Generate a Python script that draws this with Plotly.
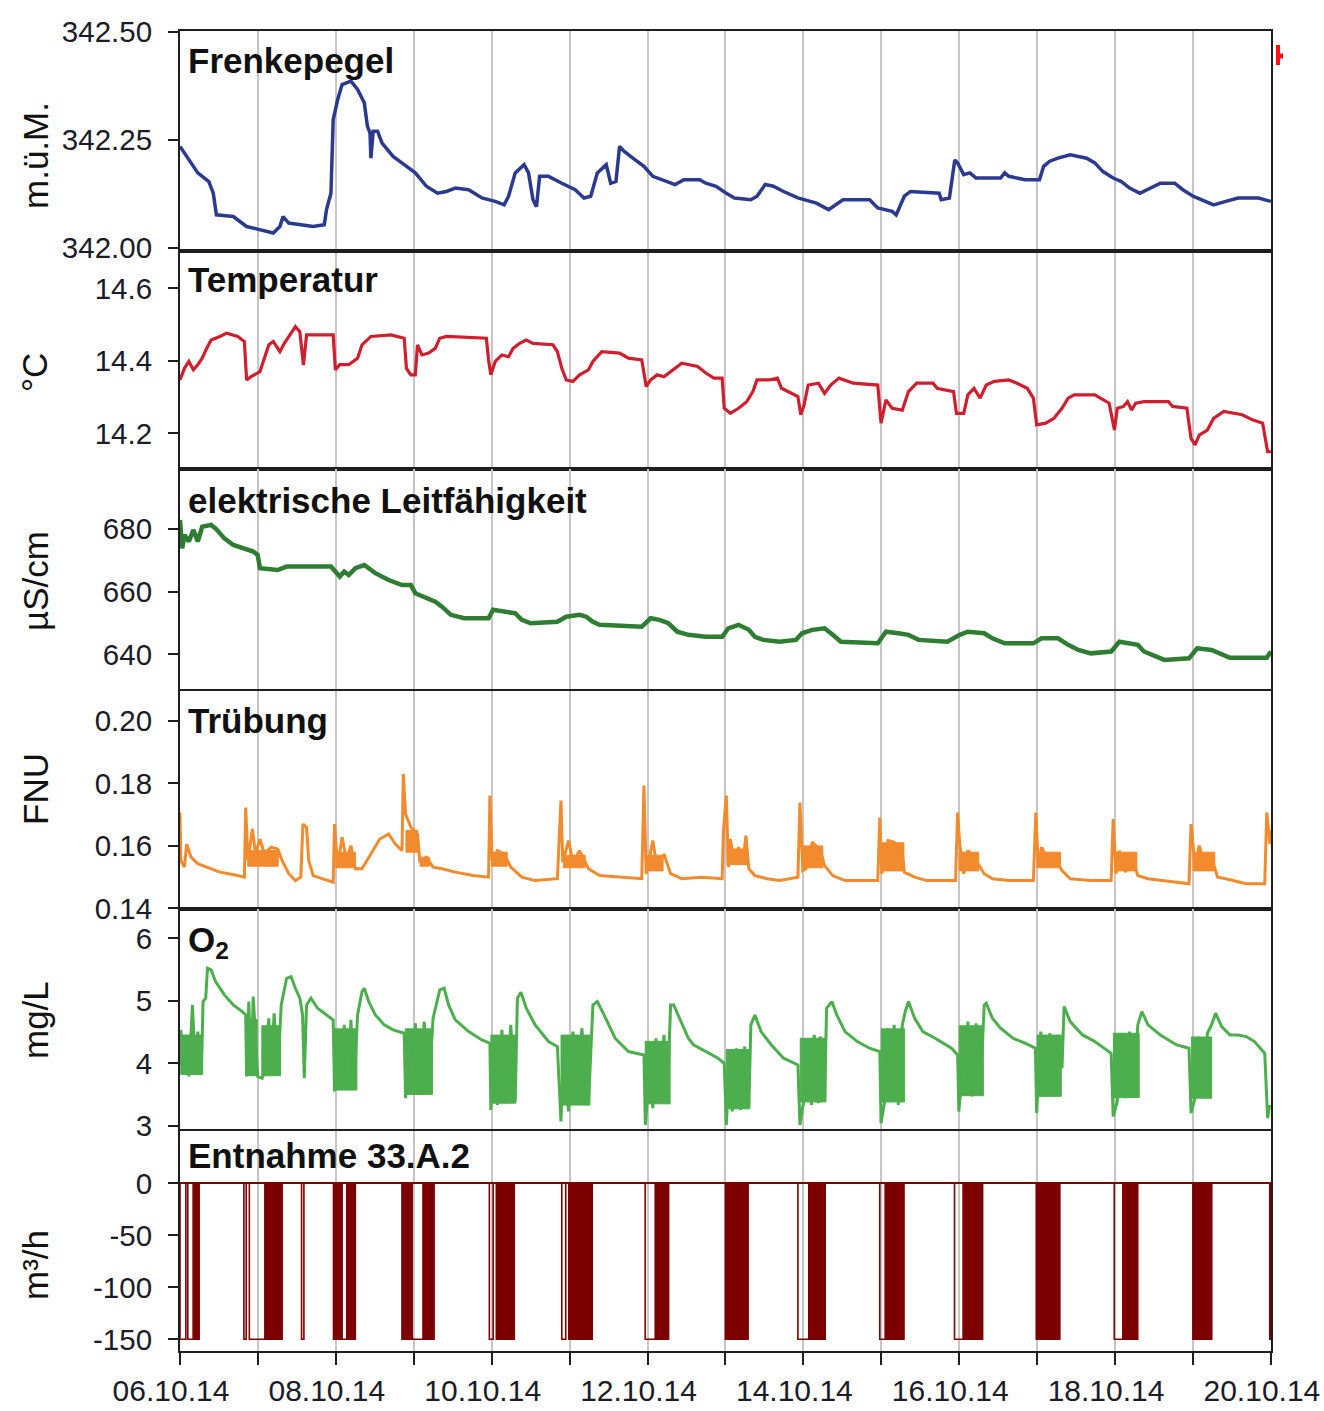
import pandas as pd
import plotly.graph_objects as go

START = "2014-10-06"
END = "2014-10-20"
T0 = pd.Timestamp(START)

# ---------------- data (days since 06.10.14 00:00) ----------------
PEGEL_DAY = [0.000, 0.114, 0.228, 0.370, 0.427, 0.467, 0.684, 0.855, 1.026, 1.197,
             1.282, 1.322, 1.396, 1.709, 1.852, 1.880, 1.937, 1.966, 2.023, 2.080,
             2.194, 2.279, 2.365, 2.405, 2.439, 2.450, 2.479, 2.536, 2.593, 2.735,
             2.877, 3.020, 3.162, 3.305, 3.419, 3.533, 3.704, 3.875, 4.046, 4.160,
             4.217, 4.302, 4.416, 4.473, 4.530, 4.575, 4.615, 4.729, 4.900, 5.071,
             5.185, 5.271, 5.356, 5.470, 5.527, 5.595, 5.641, 5.698, 5.812, 5.954,
             6.068, 6.268, 6.353, 6.467, 6.538, 6.669, 6.748, 6.879, 7.011, 7.116,
             7.326, 7.405, 7.510, 7.615, 7.746, 7.930, 8.167, 8.324, 8.508, 8.850,
             8.955, 9.139, 9.191, 9.296, 9.375, 9.743, 9.769, 9.874, 9.943, 9.980,
             10.058, 10.137, 10.216, 10.531, 10.584, 10.636, 10.847, 11.030, 11.083, 11.162,
             11.267, 11.425, 11.635, 11.740, 11.845, 11.976, 12.081, 12.187, 12.318, 12.449,
             12.581, 12.765, 12.870, 13.001, 13.106, 13.264, 13.421, 13.579, 13.842, 14.000]
PEGEL_VAL = [342.235, 342.204, 342.174, 342.154, 342.127, 342.077, 342.073, 342.050, 342.042, 342.035,
             342.050, 342.073, 342.058, 342.050, 342.054, 342.089, 342.127, 342.297, 342.343, 342.378,
             342.386, 342.367, 342.336, 342.282, 342.266, 342.208, 342.270, 342.270, 342.243, 342.212,
             342.193, 342.174, 342.143, 342.127, 342.131, 342.139, 342.135, 342.116, 342.108, 342.100,
             342.120, 342.174, 342.193, 342.174, 342.112, 342.096, 342.166, 342.166, 342.150, 342.135,
             342.116, 342.120, 342.174, 342.193, 342.150, 342.154, 342.235, 342.224, 342.208, 342.189,
             342.166, 342.154, 342.147, 342.158, 342.158, 342.158, 342.150, 342.143, 342.127, 342.116,
             342.112, 342.120, 342.147, 342.143, 342.131, 342.116, 342.104, 342.089, 342.112, 342.112,
             342.093, 342.085, 342.077, 342.120, 342.131, 342.127, 342.112, 342.116, 342.204, 342.197,
             342.170, 342.174, 342.162, 342.162, 342.174, 342.166, 342.158, 342.158, 342.189, 342.201,
             342.208, 342.216, 342.208, 342.197, 342.177, 342.162, 342.154, 342.139, 342.127, 342.139,
             342.150, 342.150, 342.135, 342.120, 342.112, 342.100, 342.108, 342.116, 342.116, 342.108]

TEMP_DAY = [0.000, 0.057, 0.114, 0.171, 0.228, 0.285, 0.342, 0.399, 0.513, 0.598,
            0.741, 0.826, 0.855, 0.912, 1.026, 1.083, 1.140, 1.197, 1.282, 1.339,
            1.396, 1.481, 1.538, 1.584, 1.624, 1.966, 1.994, 2.051, 2.165, 2.279,
            2.336, 2.450, 2.707, 2.877, 2.906, 2.963, 3.020, 3.048, 3.105, 3.191,
            3.276, 3.333, 3.419, 3.932, 3.960, 3.989, 4.046, 4.131, 4.217, 4.274,
            4.359, 4.444, 4.530, 4.786, 4.843, 4.900, 4.957, 5.043, 5.128, 5.242,
            5.299, 5.413, 5.641, 5.755, 5.926, 5.983, 6.040, 6.125, 6.211, 6.325,
            6.439, 6.643, 6.748, 6.853, 6.958, 6.984, 7.063, 7.168, 7.273, 7.352,
            7.405, 7.562, 7.667, 7.720, 7.851, 7.930, 7.967, 8.009, 8.061, 8.193,
            8.272, 8.351, 8.456, 8.640, 8.955, 8.997, 9.060, 9.139, 9.270, 9.349,
            9.454, 9.664, 9.717, 9.927, 9.964, 10.058, 10.111, 10.190, 10.268, 10.347,
            10.452, 10.636, 10.741, 10.873, 10.952, 10.994, 11.109, 11.214, 11.319, 11.398,
            11.477, 11.740, 11.924, 11.992, 12.029, 12.108, 12.160, 12.213, 12.265, 12.371,
            12.686, 12.739, 12.922, 12.975, 13.027, 13.080, 13.185, 13.264, 13.395, 13.632,
            13.763, 13.894, 13.958, 14.000]
TEMP_VAL = [14.347, 14.379, 14.398, 14.375, 14.389, 14.407, 14.434, 14.457, 14.467, 14.476,
            14.467, 14.453, 14.347, 14.356, 14.370, 14.407, 14.444, 14.453, 14.425, 14.448,
            14.467, 14.494, 14.480, 14.388, 14.471, 14.471, 14.375, 14.389, 14.389, 14.407,
            14.444, 14.467, 14.471, 14.462, 14.379, 14.361, 14.361, 14.444, 14.416, 14.421,
            14.434, 14.462, 14.467, 14.462, 14.402, 14.361, 14.398, 14.416, 14.411, 14.434,
            14.448, 14.457, 14.448, 14.444, 14.425, 14.379, 14.347, 14.343, 14.361, 14.375,
            14.398, 14.425, 14.421, 14.407, 14.402, 14.329, 14.347, 14.361, 14.356, 14.375,
            14.393, 14.384, 14.366, 14.352, 14.352, 14.269, 14.255, 14.269, 14.287, 14.315,
            14.347, 14.347, 14.352, 14.324, 14.310, 14.301, 14.251, 14.278, 14.333, 14.338,
            14.310, 14.333, 14.352, 14.338, 14.333, 14.228, 14.292, 14.269, 14.264, 14.315,
            14.338, 14.338, 14.324, 14.315, 14.255, 14.255, 14.306, 14.324, 14.297, 14.333,
            14.343, 14.347, 14.338, 14.324, 14.297, 14.223, 14.228, 14.241, 14.269, 14.297,
            14.306, 14.306, 14.283, 14.209, 14.269, 14.274, 14.287, 14.264, 14.283, 14.287,
            14.287, 14.274, 14.269, 14.186, 14.168, 14.195, 14.209, 14.241, 14.260, 14.251,
            14.237, 14.228, 14.149, 14.149]

LF_DAY = [0.000, 0.028, 0.057, 0.114, 0.171, 0.228, 0.285, 0.399, 0.456, 0.570,
          0.684, 0.826, 0.940, 0.997, 1.026, 1.254, 1.368, 1.937, 1.994, 2.051,
          2.108, 2.165, 2.251, 2.365, 2.507, 2.678, 2.849, 2.963, 3.020, 3.134,
          3.276, 3.362, 3.476, 3.647, 3.960, 4.017, 4.160, 4.302, 4.387, 4.501,
          4.843, 4.957, 5.128, 5.214, 5.299, 5.385, 5.926, 6.040, 6.154, 6.268,
          6.382, 6.524, 6.748, 6.958, 7.037, 7.168, 7.300, 7.378, 7.483, 7.694,
          7.904, 7.983, 8.114, 8.272, 8.377, 8.482, 8.955, 9.060, 9.218, 9.349,
          9.480, 9.848, 10.006, 10.111, 10.321, 10.426, 10.584, 10.952, 11.057, 11.267,
          11.398, 11.530, 11.687, 11.950, 12.055, 12.292, 12.371, 12.528, 12.633, 12.949,
          13.054, 13.238, 13.369, 13.474, 13.947, 14.000]
LF_VAL = [682.9, 673.8, 678.1, 676.0, 679.7, 676.0, 680.7, 681.3, 680.2, 677.0,
          674.9, 673.8, 672.8, 671.7, 667.5, 666.9, 668.0, 668.0, 666.4, 664.8,
          666.4, 665.3, 667.5, 668.5, 665.9, 663.7, 662.1, 662.1, 659.5, 658.4,
          656.8, 655.2, 652.6, 651.5, 651.5, 654.2, 653.6, 653.1, 651.0, 649.9,
          650.4, 652.0, 652.6, 652.0, 650.4, 649.4, 648.8, 651.5, 651.0, 649.9,
          647.2, 646.2, 645.6, 645.6, 648.3, 649.4, 647.8, 645.6, 644.6, 644.0,
          644.6, 646.7, 647.8, 648.3, 646.2, 644.0, 643.5, 647.2, 646.7, 646.2,
          644.6, 644.0, 646.2, 647.2, 646.7, 645.1, 643.5, 643.5, 645.1, 645.1,
          643.0, 641.4, 640.3, 640.9, 644.0, 643.0, 640.9, 639.3, 638.2, 638.7,
          641.9, 641.4, 639.8, 638.9, 638.9, 640.9]

TRUEB_DAY = [0.000, 0.011, 0.057, 0.085, 0.142, 0.228, 0.342, 0.513, 0.741, 0.826,
             0.843, 0.872, 0.929, 0.969, 1.026, 1.083, 1.168, 1.254, 1.311, 1.396,
             1.481, 1.550, 1.578, 1.624, 1.652, 1.709, 1.823, 1.966, 1.983, 2.023,
             2.080, 2.137, 2.194, 2.251, 2.336, 2.450, 2.564, 2.678, 2.764, 2.849,
             2.866, 2.895, 2.963, 3.048, 3.077, 3.162, 3.248, 3.362, 3.533, 3.761,
             3.960, 3.977, 4.006, 4.074, 4.160, 4.245, 4.387, 4.558, 4.843, 4.889,
             4.912, 4.986, 5.043, 5.128, 5.242, 5.385, 5.926, 5.954, 5.983, 6.068,
             6.125, 6.211, 6.296, 6.439, 6.695, 6.958, 6.974, 7.011, 7.037, 7.063,
             7.116, 7.168, 7.221, 7.263, 7.300, 7.378, 7.536, 7.694, 7.930, 7.956,
             7.993, 8.035, 8.114, 8.219, 8.272, 8.377, 8.534, 8.955, 8.981, 9.007,
             9.086, 9.165, 9.270, 9.296, 9.428, 9.585, 9.953, 9.980, 10.006, 10.058,
             10.111, 10.190, 10.268, 10.321, 10.426, 10.636, 10.952, 10.983, 11.015, 11.057,
             11.136, 11.214, 11.319, 11.425, 11.687, 11.950, 11.976, 12.013, 12.055, 12.134,
             12.213, 12.292, 12.423, 12.738, 12.949, 12.975, 13.027, 13.080, 13.159, 13.238,
             13.316, 13.421, 13.684, 13.921, 13.947, 13.989, 14.000]
TRUEB_VAL = [0.1707, 0.1553, 0.1532, 0.1606, 0.1564, 0.1543, 0.1532, 0.1516, 0.1505, 0.1500,
             0.1723, 0.1553, 0.1654, 0.1574, 0.1622, 0.1574, 0.1596, 0.1590, 0.1553, 0.1511,
             0.1489, 0.1500, 0.1670, 0.1660, 0.1553, 0.1505, 0.1495, 0.1484, 0.1670, 0.1532,
             0.1628, 0.1553, 0.1601, 0.1527, 0.1527, 0.1574, 0.1622, 0.1638, 0.1606, 0.1585,
             0.1830, 0.1702, 0.1660, 0.1638, 0.1553, 0.1564, 0.1532, 0.1527, 0.1516, 0.1505,
             0.1500, 0.1761, 0.1553, 0.1585, 0.1574, 0.1532, 0.1500, 0.1489, 0.1495, 0.1745,
             0.1548, 0.1617, 0.1548, 0.1585, 0.1527, 0.1505, 0.1495, 0.1793, 0.1511, 0.1617,
             0.1527, 0.1574, 0.1511, 0.1495, 0.1500, 0.1495, 0.1649, 0.1761, 0.1532, 0.1622,
             0.1543, 0.1596, 0.1543, 0.1633, 0.1527, 0.1505, 0.1495, 0.1489, 0.1500, 0.1739,
             0.1521, 0.1527, 0.1612, 0.1585, 0.1537, 0.1505, 0.1489, 0.1489, 0.1691, 0.1511,
             0.1617, 0.1612, 0.1580, 0.1516, 0.1500, 0.1489, 0.1489, 0.1707, 0.1606, 0.1511,
             0.1585, 0.1564, 0.1532, 0.1511, 0.1495, 0.1489, 0.1489, 0.1707, 0.1532, 0.1596,
             0.1553, 0.1564, 0.1521, 0.1495, 0.1489, 0.1489, 0.1686, 0.1511, 0.1585, 0.1516,
             0.1569, 0.1505, 0.1495, 0.1484, 0.1479, 0.1670, 0.1532, 0.1601, 0.1532, 0.1564,
             0.1500, 0.1495, 0.1479, 0.1479, 0.1707, 0.1606, 0.1650]

# Trübung: periods of rapid fluctuation (start, end, lower and upper envelope)
TRUEB_BAND_START = [0.87, 2.00, 2.90, 3.08, 4.00, 4.92, 5.98, 7.02, 8.00, 9.00, 10.00, 11.00, 12.00, 13.00]
TRUEB_BAND_END = [1.26, 2.25, 3.05, 3.20, 4.20, 5.20, 6.20, 7.28, 8.25, 9.29, 10.25, 11.30, 12.28, 13.28]
TRUEB_BAND_LOW = [0.1535, 0.1530, 0.1580, 0.1535, 0.1535, 0.1530, 0.1520, 0.1540, 0.1530, 0.1520,
                  0.1520, 0.1530, 0.1520, 0.1520]
TRUEB_BAND_HIGH = [0.1585, 0.1580, 0.1650, 0.1564, 0.1580, 0.1570, 0.1570, 0.1590, 0.1600, 0.1610,
                   0.1580, 0.1580, 0.1580, 0.1580]

O2_DAY = [0.000, 0.011, 0.046, 0.085, 0.114, 0.160, 0.199, 0.228, 0.274, 0.296,
          0.330, 0.353, 0.399, 0.456, 0.570, 0.684, 0.798, 0.843, 0.855, 0.883,
          0.912, 0.940, 0.997, 1.054, 1.083, 1.140, 1.168, 1.208, 1.254, 1.299,
          1.368, 1.425, 1.481, 1.538, 1.573, 1.595, 1.624, 1.681, 1.766, 1.880,
          1.966, 1.983, 2.023, 2.063, 2.108, 2.154, 2.194, 2.234, 2.279, 2.336,
          2.365, 2.422, 2.507, 2.621, 2.735, 2.877, 2.895, 2.934, 2.991, 3.020,
          3.077, 3.134, 3.191, 3.248, 3.333, 3.390, 3.447, 3.533, 3.704, 3.875,
          3.977, 3.989, 4.034, 4.074, 4.131, 4.188, 4.245, 4.302, 4.330, 4.376,
          4.444, 4.558, 4.729, 4.843, 4.889, 4.929, 4.986, 5.043, 5.100, 5.157,
          5.242, 5.299, 5.356, 5.442, 5.584, 5.755, 5.954, 5.972, 6.028, 6.068,
          6.108, 6.154, 6.211, 6.256, 6.296, 6.336, 6.410, 6.524, 6.590, 6.748,
          6.905, 6.984, 7.011, 7.053, 7.089, 7.142, 7.194, 7.247, 7.300, 7.326,
          7.378, 7.457, 7.589, 7.746, 7.930, 7.956, 8.009, 8.061, 8.104, 8.140,
          8.193, 8.219, 8.272, 8.298, 8.366, 8.429, 8.534, 8.692, 8.850, 8.981,
          8.997, 9.049, 9.086, 9.123, 9.165, 9.218, 9.270, 9.307, 9.349, 9.428,
          9.533, 9.690, 9.901, 9.980, 9.995, 10.048, 10.085, 10.111, 10.163, 10.216,
          10.268, 10.321, 10.347, 10.426, 10.531, 10.689, 10.847, 10.978, 10.994, 11.046,
          11.109, 11.162, 11.225, 11.267, 11.319, 11.346, 11.425, 11.582, 11.740, 11.950,
          11.976, 12.029, 12.081, 12.134, 12.187, 12.239, 12.292, 12.344, 12.423, 12.581,
          12.791, 12.949, 12.975, 13.027, 13.080, 13.133, 13.185, 13.238, 13.290, 13.369,
          13.474, 13.579, 13.684, 13.789, 13.921, 13.958, 13.984]
O2_VAL = [3.973, 4.533, 3.813, 4.453, 3.787, 4.933, 3.813, 4.507, 3.840, 4.987,
          5.040, 5.520, 5.493, 5.307, 5.093, 4.933, 4.827, 4.773, 3.787, 4.987,
          3.867, 5.067, 3.787, 3.760, 3.867, 4.720, 3.813, 4.800, 3.813, 4.933,
          5.360, 5.387, 5.200, 5.040, 4.773, 3.760, 4.933, 5.040, 4.880, 4.773,
          4.693, 3.547, 4.507, 3.573, 4.613, 3.573, 4.693, 3.573, 4.773, 5.147,
          5.200, 4.987, 4.773, 4.613, 4.533, 4.480, 3.440, 4.453, 3.520, 4.640,
          3.493, 4.667, 3.520, 4.720, 5.173, 5.200, 4.933, 4.693, 4.507, 4.373,
          4.320, 3.253, 4.400, 3.333, 4.533, 3.360, 4.613, 3.387, 5.040, 5.136,
          4.880, 4.613, 4.347, 4.267, 3.067, 4.453, 3.227, 4.507, 3.333, 4.560,
          3.333, 4.933, 4.987, 4.773, 4.400, 4.187, 4.133, 3.013, 3.893, 3.280,
          4.400, 3.387, 4.453, 3.493, 4.933, 4.933, 4.720, 4.400, 4.293, 4.187,
          4.080, 4.000, 3.013, 4.027, 3.227, 4.240, 3.253, 4.267, 3.280, 4.613,
          4.773, 4.507, 4.293, 4.080, 3.973, 3.013, 3.440, 3.973, 3.333, 4.453,
          3.360, 4.427, 3.387, 4.880, 4.987, 4.773, 4.507, 4.347, 4.240, 4.187,
          3.040, 3.440, 4.560, 3.387, 4.613, 3.333, 4.613, 4.827, 4.987, 4.720,
          4.507, 4.400, 4.240, 4.133, 3.227, 3.973, 3.493, 4.667, 3.467, 4.640,
          3.493, 4.933, 4.960, 4.720, 4.560, 4.400, 4.320, 4.240, 3.200, 4.507,
          3.467, 4.480, 3.467, 4.453, 3.920, 4.907, 4.667, 4.453, 4.347, 4.160,
          3.147, 3.387, 4.480, 3.440, 4.507, 3.493, 4.613, 4.827, 4.613, 4.453,
          4.293, 4.240, 3.200, 3.440, 4.427, 3.440, 4.480, 4.613, 4.800, 4.587,
          4.453, 4.453, 4.427, 4.347, 4.160, 3.120, 3.333]

# O2: periods of rapid fluctuation while the well pumps (start, end, envelope)
O2_BAND_START = [0.01, 0.86, 1.05, 1.98, 2.89, 3.99, 4.89, 5.97, 7.01, 7.96, 9.00, 10.00, 11.00, 11.98, 12.98]
O2_BAND_END = [0.29, 0.99, 1.29, 2.27, 3.24, 4.31, 5.26, 6.29, 7.31, 8.29, 9.30, 10.31, 11.31, 12.31, 13.24]
O2_BAND_LOW = [3.82, 3.80, 3.80, 3.57, 3.50, 3.36, 3.33, 3.35, 3.27, 3.38, 3.38, 3.48, 3.47, 3.45, 3.44]
O2_BAND_HIGH = [4.45, 4.70, 4.60, 4.55, 4.55, 4.45, 4.45, 4.35, 4.22, 4.40, 4.55, 4.60, 4.45, 4.48, 4.42]

# Entnahme 33.A.2: pumping blocks (start/end day), 'L' = single run, 'D' = dense switching
ENT_START = [0.00, 0.10, 0.17, 0.82, 0.89, 1.09, 1.56, 1.97, 2.08, 2.14, 2.85, 2.98, 3.12,
             3.97, 4.06, 4.90, 4.99, 5.97, 6.10, 7.00, 7.93, 8.07, 8.98, 9.07, 9.11, 9.15,
             9.94, 10.06, 10.99, 11.99, 12.11, 13.00, 13.985]
ENT_END = [0.075, 0.17, 0.245, 0.85, 1.09, 1.31, 1.59, 2.08, 2.14, 2.25, 2.98, 3.12, 3.26,
           4.02, 4.29, 4.95, 5.29, 6.10, 6.27, 7.29, 8.07, 8.28, 9.05, 9.09, 9.13, 9.29,
           10.05, 10.30, 11.29, 12.10, 12.29, 13.24, 14.0]
ENT_KIND = ['L', 'L', 'D', 'L', 'L', 'D', 'L', 'D', 'L', 'D', 'D', 'L', 'D',
            'L', 'D', 'L', 'D', 'L', 'D', 'D', 'L', 'D', 'L', 'L', 'L', 'D',
            'L', 'D', 'D', 'L', 'D', 'D', 'L']
ENT_ON = -150
ENT_OFF = 0

X_TICK_DATES = ["2014-10-06", "2014-10-08", "2014-10-10", "2014-10-12",
                "2014-10-14", "2014-10-16", "2014-10-18", "2014-10-20"]
X_TICK_LABELS = ["06.10.14", "08.10.14", "10.10.14", "12.10.14",
                 "14.10.14", "16.10.14", "18.10.14", "20.10.14"]

PANEL_TITLES = ["<b>Frenkepegel</b>", "<b>Temperatur</b>", "<b>elektrische Leitfähigkeit</b>",
                "<b>Trübung</b>", "<b>O<sub>2</sub></b>", "<b>Entnahme 33.A.2</b>"]
UNITS = ["m.ü.M.", "°C", "µS/cm", "FNU", "mg/L", "m³/h"]
Y_TICKS = [[342.00, 342.25, 342.50], [14.2, 14.4, 14.6], [640, 660, 680],
           [0.14, 0.16, 0.18, 0.20], [3, 4, 5, 6], [-150, -100, -50, 0]]
Y_TICKFMT = ["{:.2f}", "{:.1f}", "{:.0f}", "{:.2f}", "{:.0f}", "{:.0f}"]
Y_RANGES = [[341.998, 342.502], [14.1015, 14.697], [627.96, 699.15],
            [0.1398, 0.2096], [2.947, 6.469], [-161.25, 50.3]]

for a, b in [(PEGEL_DAY, PEGEL_VAL), (TEMP_DAY, TEMP_VAL), (LF_DAY, LF_VAL),
             (TRUEB_DAY, TRUEB_VAL), (O2_DAY, O2_VAL)]:
    assert len(a) == len(b), (len(a), len(b))
assert len(ENT_START) == len(ENT_END) == len(ENT_KIND)
assert len(O2_BAND_START) == len(O2_BAND_END) == len(O2_BAND_LOW) == len(O2_BAND_HIGH)
assert len(TRUEB_BAND_START) == len(TRUEB_BAND_END) == len(TRUEB_BAND_LOW) == len(TRUEB_BAND_HIGH)

# ---------------- styling ----------------
FONT = "Arial, Liberation Sans, sans-serif"
TXT = "#1c1c28"
AX = "#1e1e1e"
GRID = "#c6c6c6"
COLORS = ["#2b3a8f", "#cf1f2e", "#2e7d32", "#f28a2e", "#4cae4c", "#7d0000"]

W, H = 1324, 1411
ML, MR, MT, MB = 180, 53, 31, 60
PH = H - MT - MB
PW = W - ML - MR
PANELS_PX = [(31, 249), (253, 469), (469, 692), (691, 909), (909, 1129), (1131, 1351)]


def py(p):
    return (H - MB - p) / PH


def px(p):
    return (p - ML) / PW


def dates(days):
    return [None if d is None else T0 + pd.Timedelta(days=float(d)) for d in days]


def band_polys(starts, ends, lows, highs):
    bx, by = [], []
    for s, e, lo, hi in zip(starts, ends, lows, highs):
        bx += [s, s, e, e, s, None]
        by += [lo, hi, hi, lo, lo, None]
    return bx, by


fig = go.Figure()

# fluctuation bands (drawn underneath the lines)
for (st, en, lo, hi), n, col in [((TRUEB_BAND_START, TRUEB_BAND_END, TRUEB_BAND_LOW, TRUEB_BAND_HIGH), "4", COLORS[3]),
                                  ((O2_BAND_START, O2_BAND_END, O2_BAND_LOW, O2_BAND_HIGH), "5", COLORS[4])]:
    bx, by = band_polys(st, en, lo, hi)
    fig.add_trace(go.Scatter(x=dates(bx), y=by, mode="lines", fill="toself", fillcolor=col,
                             line=dict(color=col, width=1), xaxis="x" + n, yaxis="y" + n,
                             showlegend=False, hoverinfo="skip"))

series = [(PEGEL_DAY, PEGEL_VAL, 3.5), (TEMP_DAY, TEMP_VAL, 3.2), (LF_DAY, LF_VAL, 4.5),
          (TRUEB_DAY, TRUEB_VAL, 3.0), (O2_DAY, O2_VAL, 3.0)]
for i, (d, v, w) in enumerate(series):
    n = "" if i == 0 else str(i + 1)
    fig.add_trace(go.Scatter(x=dates(d), y=v, mode="lines",
                             line=dict(color=COLORS[i], width=w),
                             xaxis="x" + n, yaxis="y" + n, showlegend=False, hoverinfo="skip"))

# Entnahme step line and dense blocks
ex, ey, fx, fy = [], [], [], []
for s, e, k in zip(ENT_START, ENT_END, ENT_KIND):
    ex += [s, s, e, e]
    ey += [ENT_OFF, ENT_ON, ENT_ON, ENT_OFF]
    if k == 'D':
        fx += [s, s, e, e, None]
        fy += [ENT_OFF, ENT_ON, ENT_ON, ENT_OFF, None]
fig.add_trace(go.Scatter(x=dates(fx), y=fy, mode="lines", fill="toself",
                         fillcolor=COLORS[5], line=dict(color=COLORS[5], width=1),
                         xaxis="x6", yaxis="y6", showlegend=False, hoverinfo="skip"))
fig.add_trace(go.Scatter(x=dates(ex), y=ey, mode="lines",
                         line=dict(color=COLORS[5], width=1.6),
                         xaxis="x6", yaxis="y6", showlegend=False, hoverinfo="skip"))

DAY_MS = 86400000
X_END = (pd.Timestamp(END) + pd.Timedelta(minutes=2)).strftime("%Y-%m-%d %H:%M")
layout = {}
annotations = []
for i in range(6):
    n = "" if i == 0 else str(i + 1)
    top, bot = PANELS_PX[i]
    bottom = (i == 5)
    xa = dict(domain=[0, 1], anchor="y" + n, type="date", range=[START, X_END],
              showline=True, mirror=True, linecolor=AX, linewidth=2,
              showgrid=True, gridcolor=GRID, gridwidth=1.5,
              tickmode="array", tickvals=X_TICK_DATES, ticktext=X_TICK_LABELS,
              showticklabels=bottom, ticks="outside" if bottom else "",
              ticklen=12, tickwidth=2, tickcolor=AX,
              ticklabelshift=-9, ticklabeloverflow="allow",
              minor=dict(tick0=START, dtick=DAY_MS, showgrid=True, gridcolor=GRID, gridwidth=1.5,
                         ticks="outside" if bottom else "", ticklen=12, tickwidth=2,
                         tickcolor=AX),
              tickfont=dict(family=FONT, size=30, color=TXT),
              zeroline=False, automargin=False, fixedrange=True)
    if i > 0:
        xa["matches"] = "x"
    ya = dict(domain=[py(bot), py(top)], anchor="x" + n, range=Y_RANGES[i],
              tickmode="array", tickvals=Y_TICKS[i],
              ticktext=[Y_TICKFMT[i].format(t) for t in Y_TICKS[i]],
              ticks="outside", ticklen=10, tickwidth=2, tickcolor=AX,
              ticklabelstandoff=10, ticklabeloverflow="allow",
              showline=True, mirror=True, linecolor=AX, linewidth=2,
              showgrid=False, zeroline=(i == 5), zerolinecolor=COLORS[5], zerolinewidth=2,
              tickfont=dict(family=FONT, size=29.5, color=TXT), automargin=False, fixedrange=True)
    layout["xaxis" + n] = xa
    layout["yaxis" + n] = ya

TITLE_Y_PX = [60, 279, 500, 720, 942, 1155]
UNIT_Y_PX = [156, 373, 581, 789, 1020, 1265]
for i in range(6):
    annotations.append(dict(text=PANEL_TITLES[i], xref="paper", yref="paper",
                            x=px(186), y=py(TITLE_Y_PX[i]), xanchor="left", yanchor="middle",
                            showarrow=False, font=dict(family=FONT, size=35, color="#111111")))
    annotations.append(dict(text=UNITS[i], xref="paper", yref="paper",
                            x=px(35), y=py(UNIT_Y_PX[i]), xanchor="center", yanchor="middle",
                            textangle=-90, showarrow=False,
                            font=dict(family=FONT, size=35, color="#111111")))

shapes = [dict(type="line", xref="paper", yref="paper", x0=px(1278), x1=px(1278),
               y0=py(45), y1=py(65), line=dict(color="#ff1010", width=4)),
          dict(type="line", xref="paper", yref="paper", x0=px(1278), x1=px(1283),
               y0=py(56), y1=py(56), line=dict(color="#ff1010", width=5))]

fig.update_layout(**layout)
fig.update_layout(width=W, height=H, margin=dict(l=ML, r=MR, t=MT, b=MB),
                  paper_bgcolor="white", plot_bgcolor="white",
                  annotations=annotations, shapes=shapes, showlegend=False,
                  font=dict(family=FONT, color=TXT), template="none")

fig.write_html("out.html")
